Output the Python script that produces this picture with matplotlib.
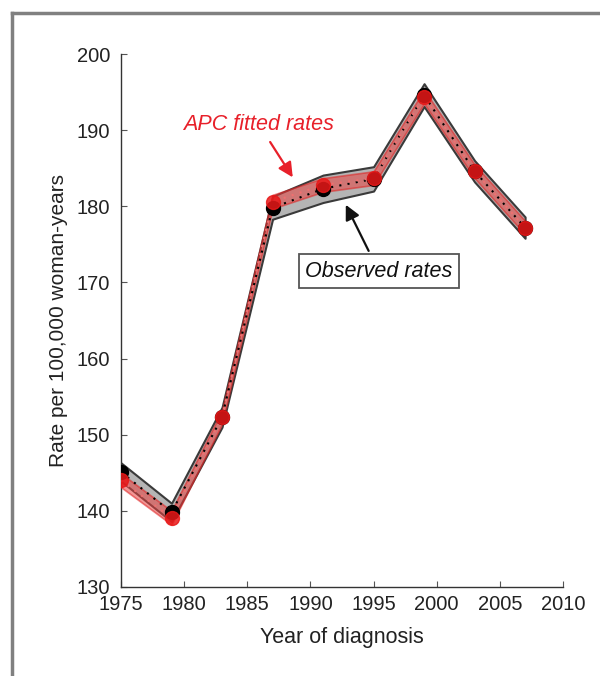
import matplotlib
matplotlib.use("Agg")
import matplotlib.pyplot as plt
from matplotlib.lines import Line2D
import numpy as np

plt.rcParams['font.family'] = ['Liberation Sans', 'DejaVu Sans']

years = [1975, 1979, 1983, 1987, 1991, 1995, 1999, 2003, 2007]
observed = [145.1, 139.8, 152.3, 179.8, 182.3, 183.6, 194.6, 184.6, 177.2]
observed_ci = [1.2, 1.2, 1.3, 1.5, 1.8, 1.6, 1.5, 1.4, 1.4]
fitted = [144.0, 139.1, 152.3, 180.6, 182.8, 183.7, 194.4, 184.6, 177.2]
fitted_ci = [0.9, 0.9, 0.9, 0.9, 0.9, 0.9, 0.9, 0.9, 0.9]

x_ticks = [1975, 1980, 1985, 1990, 1995, 2000, 2005, 2010]
y_ticks = [130, 140, 150, 160, 170, 180, 190, 200]

fig = plt.figure(figsize=(6.0, 6.76), dpi=100)
ax = fig.add_axes([0.2017, 0.1317, 0.7366, 0.7884])

yr = np.array(years)
obs = np.array(observed)
oci = np.array(observed_ci)
fit = np.array(fitted)
fci = np.array(fitted_ci)

# observed confidence band
ax.fill_between(yr, obs - oci, obs + oci, facecolor='#b5b5b5', edgecolor='#3a3a3a',
                linewidth=1.5, zorder=2)
# fitted confidence band
ax.fill_between(yr, fit - fci, fit + fci, facecolor='#e8413f', alpha=0.55,
                edgecolor='#e02020', linewidth=1.2, zorder=3)
ax.plot(yr, obs, color='black', linestyle=(0, (1, 3)), linewidth=1.5, zorder=4)
ax.plot(yr, fit, color='#f07070', linestyle=(0, (1, 3)), linewidth=1.5, zorder=4)
ax.plot(yr, obs, 'o', color='black', markersize=10, zorder=5)
ax.plot(yr, fit, 'o', color='#e81818', markersize=10, alpha=0.85, zorder=6)

ax.set_xlim(1975, 2010)
ax.set_ylim(130, 200)
ax.set_xticks(x_ticks)
ax.set_yticks(y_ticks)
ax.spines['top'].set_visible(False)
ax.spines['right'].set_visible(False)
for s in ('left', 'bottom'):
    ax.spines[s].set_color('#333333')
    ax.spines[s].set_linewidth(1.0)
ax.tick_params(direction='in', length=4, width=0.8, color='#555555',
               labelsize=14.5, labelcolor='#222222')
ax.tick_params(axis='y', pad=8)
ax.tick_params(axis='x', pad=6)

ax.set_xlabel('Year of diagnosis', fontsize=15.5, color='#222222', labelpad=9)
ax.set_ylabel('Rate per 100,000 woman-years', fontsize=15, color='#222222', labelpad=6)

ax.annotate('APC fitted rates', xy=(1988.6, 183.8), xytext=(1985.9, 190.8),
            fontsize=15.5, style='italic', color='#e8202a', ha='center', va='center',
            arrowprops=dict(arrowstyle='-|>', color='#e8202a', lw=1.6,
                            mutation_scale=22, shrinkA=4, shrinkB=0))
ax.annotate('Observed rates', xy=(1992.8, 180.2), xytext=(1995.4, 171.5),
            fontsize=15.5, style='italic', color='#111111', ha='center', va='center',
            bbox=dict(boxstyle='square,pad=0.3', facecolor='white',
                      edgecolor='#555555', linewidth=1.3),
            arrowprops=dict(arrowstyle='-|>', color='#111111', lw=1.6,
                            mutation_scale=22, shrinkA=2, shrinkB=0))

# gray frame along top and left
fig.add_artist(Line2D([12 / 600, 1.0], [1 - 13 / 676, 1 - 13 / 676],
                      transform=fig.transFigure, color='#808080', linewidth=2.5))
fig.add_artist(Line2D([12 / 600, 12 / 600], [0.0, 1 - 13 / 676],
                      transform=fig.transFigure, color='#808080', linewidth=2.5))

fig.savefig('out.png', dpi=100)
